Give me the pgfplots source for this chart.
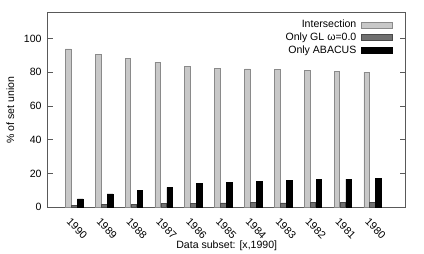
\documentclass[border=0pt]{standalone}
\usepackage{graphicx}
\usepackage{pgfplots}
\pgfplotsset{compat=1.18}
\usepackage{fontspec}
\setmainfont{Liberation Sans}
\newcommand\myfont{\fontsize{10.6}{12.7}\selectfont}
\newcommand\rl[1]{\rotatebox{-45}{#1}}
\definecolor{interfill}{HTML}{C8C8C8}
\definecolor{interdraw}{HTML}{8A8A8A}
\definecolor{glfill}{HTML}{707070}
\definecolor{gldraw}{HTML}{4A4A4A}
\pgfplotsset{
  boxlegend/.style={legend image code/.code={\draw[##1] (0bp,-3bp) rectangle (31bp,3bp);}},
}
\begin{document}
\begin{tikzpicture}
\begin{axis}[
  name=ax,
  scale only axis,
  width=358.1bp, height=194.6bp,
  ybar, bar width=0.19, bar shift auto=false,
  xmin=-0.89, xmax=11.11,
  ymin=0, ymax=115.3,
  ytick={0,20,40,60,80,100},
  xtick={0,1,2,3,4,5,6,7,8,9,10},
  xticklabels={\rl{1990},\rl{1989},\rl{1988},\rl{1987},\rl{1986},\rl{1985},\rl{1984},\rl{1983},\rl{1982},\rl{1981},\rl{1980}},
  xtick style={draw=none},
  ytick align=inside, ytick pos=both,
  major tick length=5.7bp,
  axis line style={black!65, line width=0.7bp},
  ytick style={black!65, line width=0.7bp},
  /pgf/number format/assume math mode=true,
  tick label style={font=\myfont},
  yticklabel style={inner sep=0pt, xshift=-6bp},
  xticklabel style={anchor=north, inner sep=0pt, xshift=2.8bp, yshift=-4.4bp},
  xlabel={Data subset: [x,1990]},
  ylabel={\% of set union},
  xlabel style={at={(rel axis cs:0.5,0)}, anchor=center, yshift=-38.7bp, font=\myfont},
  every axis y label/.style={at={(rel axis cs:0,0.5)}, anchor=center, xshift=-37.4bp, rotate=90, font=\myfont},
  legend plot pos=right,
  legend cell align=right,
  legend style={font=\myfont, draw=none, fill=none, at={(rel axis cs:0.965,0.968)}, anchor=north east,
    inner sep=0pt, row sep=0.6bp, column sep=4bp, nodes={inner sep=1bp, text height=7.8bp, text depth=2.2bp}},
]
\addplot[boxlegend, fill=interfill, draw=interdraw, line width=0.7bp, bar shift=-0.2] coordinates {
(0,93.8) (1,90.6) (2,88.3) (3,86.0) (4,83.6) (5,82.5) (6,82.0) (7,81.6) (8,81.0) (9,80.5) (10,80.1)};
\addplot[boxlegend, fill=glfill, draw=gldraw, line width=0.7bp, bar shift=0] coordinates {
(0,1.2) (1,1.8) (2,1.8) (3,2.3) (4,2.4) (5,2.6) (6,2.8) (7,2.6) (8,2.8) (9,2.9) (10,2.9)};
\addplot[boxlegend, fill=black, draw=black, line width=0.7bp, bar shift=0.2] coordinates {
(0,5.0) (1,7.9) (2,9.9) (3,11.8) (4,14.0) (5,14.9) (6,15.3) (7,15.8) (8,16.3) (9,16.7) (10,17.0)};
\legend{Intersection, Only GL ω=0.0, Only ABACUS}
\end{axis}
\pgfresetboundingbox
\path ([xshift=-47.7bp,yshift=-46.7bp]ax.south west) rectangle ([xshift=18.2bp,yshift=12.7bp]ax.north east);
\end{tikzpicture}
\end{document}
